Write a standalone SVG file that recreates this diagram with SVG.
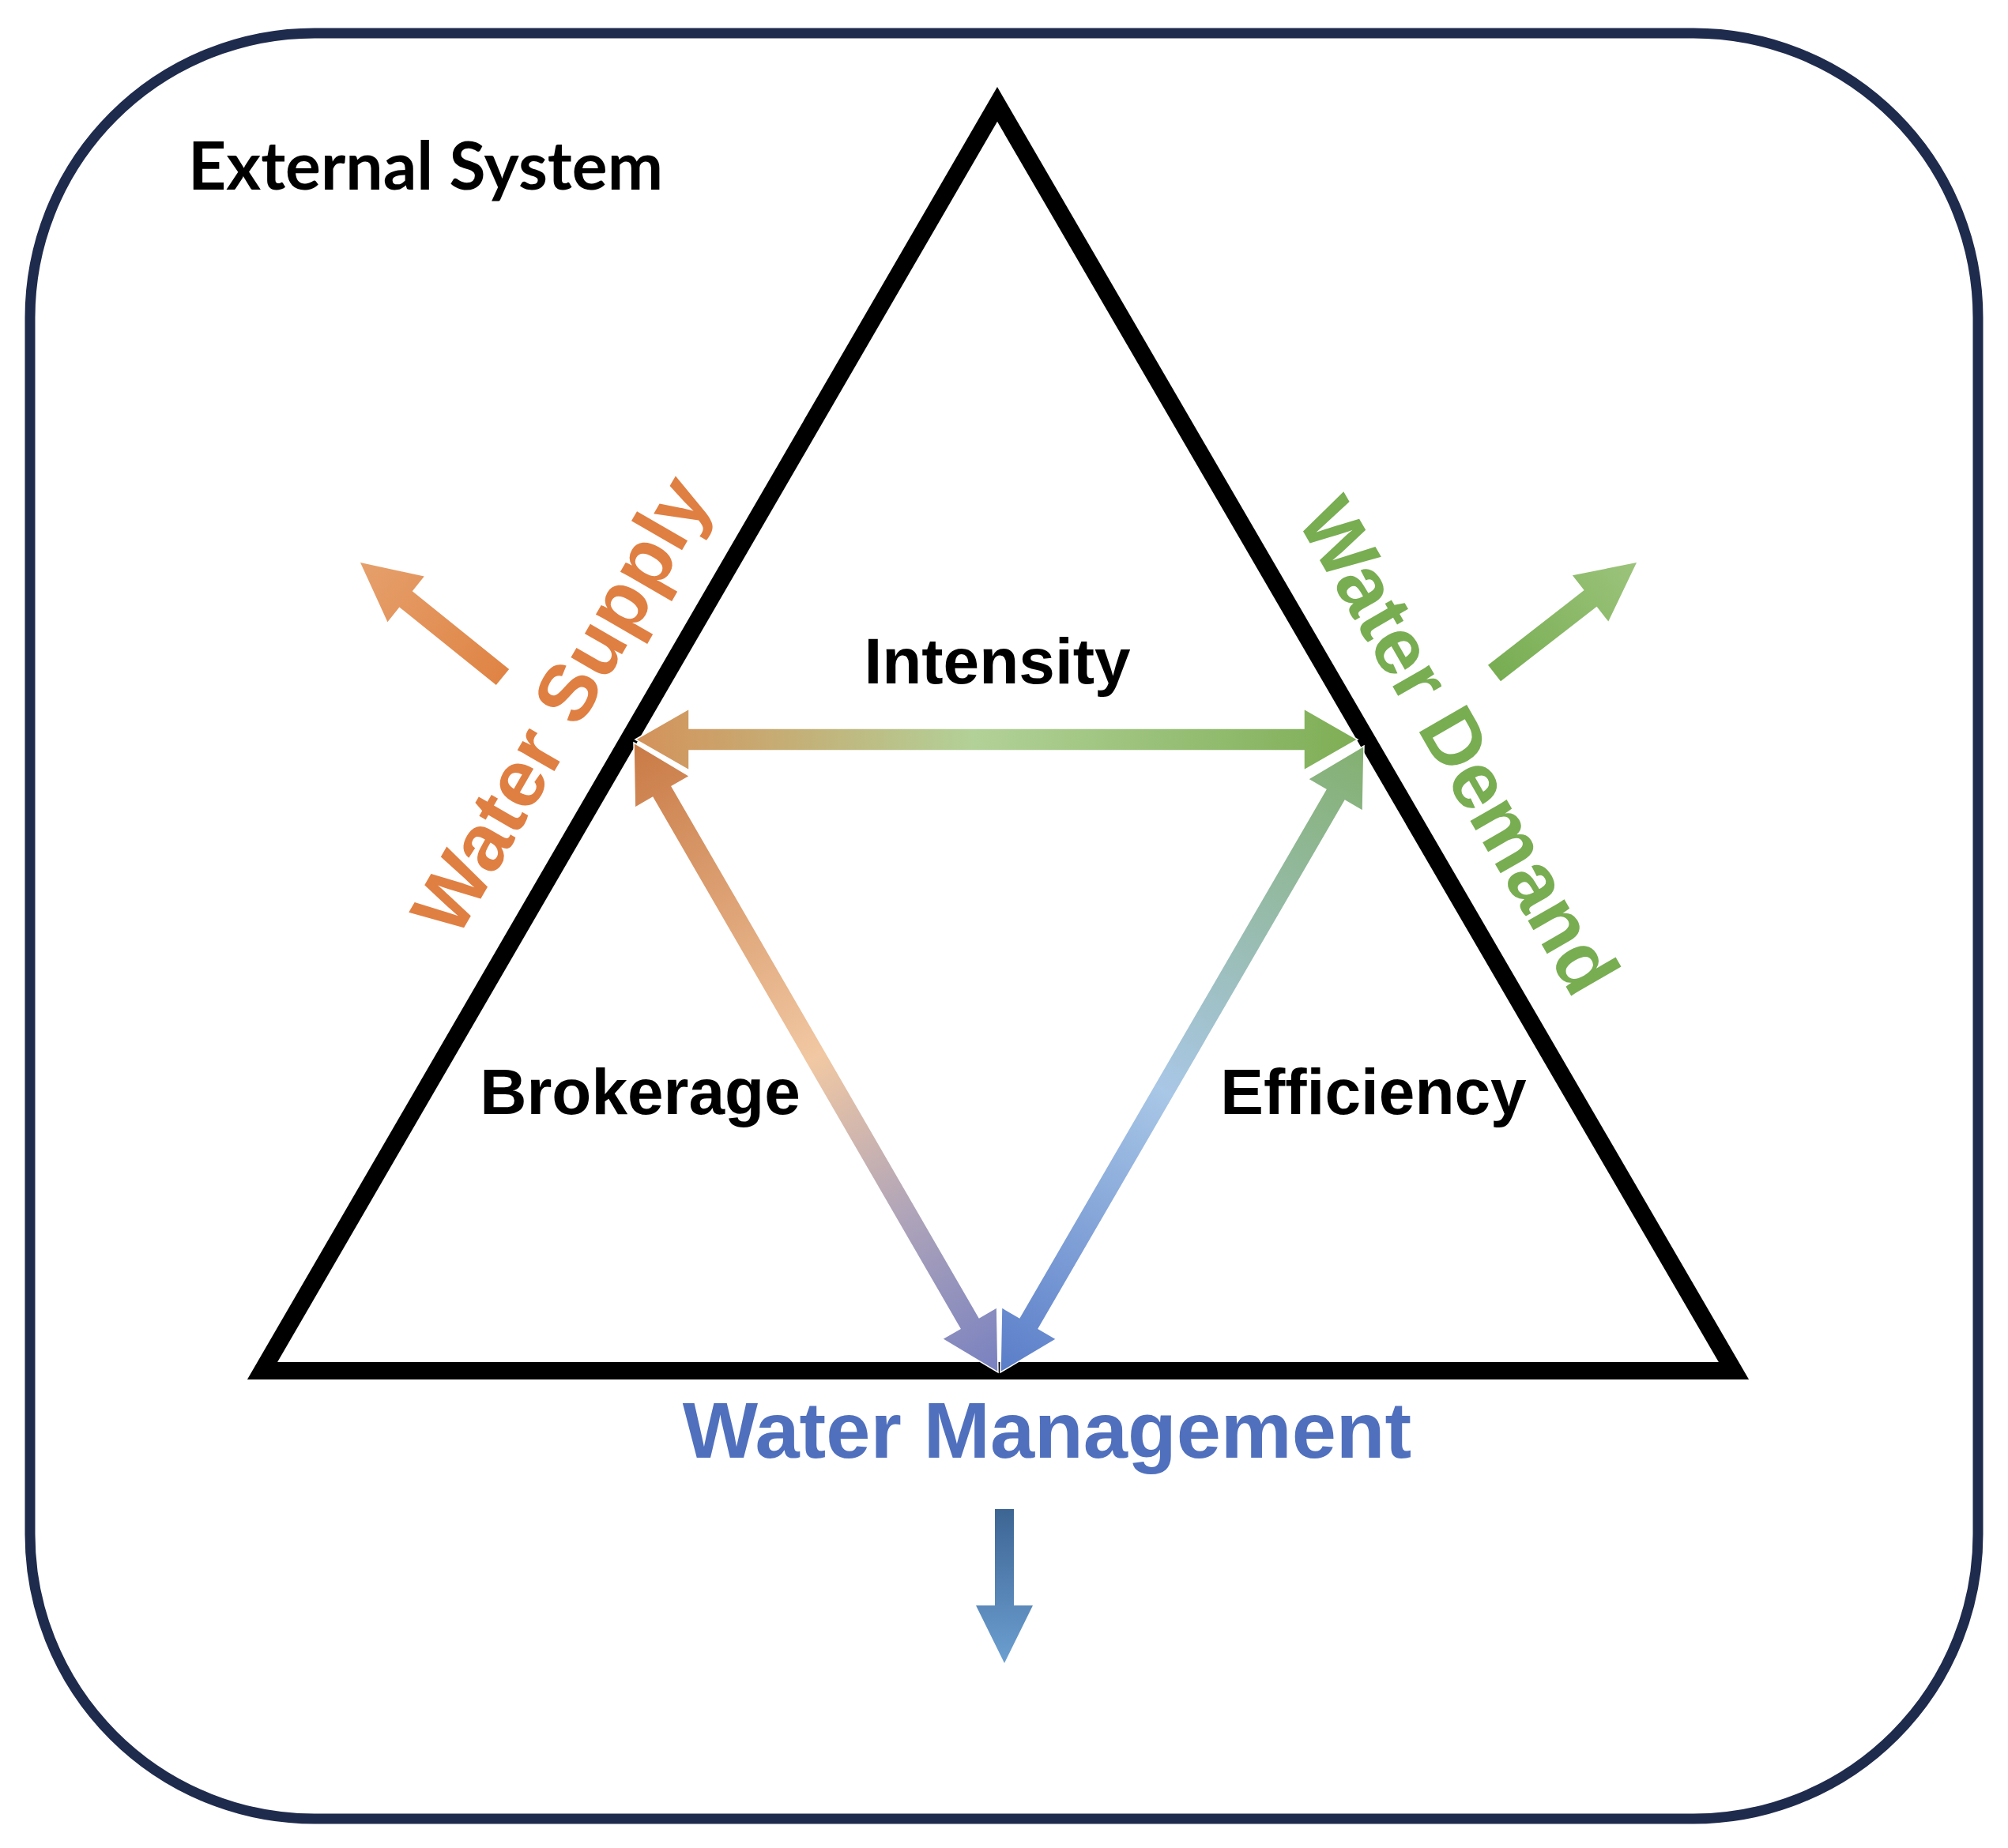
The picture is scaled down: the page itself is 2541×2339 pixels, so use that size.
<svg xmlns="http://www.w3.org/2000/svg" width="2541" height="2339" viewBox="0 0 2541 2339">
<style>
.lbl{font-family:"Liberation Sans",Arial,sans-serif;font-weight:bold;}
.blk{fill:#000;font-size:82px;text-anchor:middle;}
.arr{stroke:#fff;stroke-width:1.5;stroke-linejoin:miter;}
</style>
<defs>
<linearGradient id="gH" gradientUnits="userSpaceOnUse" x1="804" y1="936" x2="1718" y2="936">
<stop offset="0" stop-color="#d4925a"/><stop offset="0.47" stop-color="#b2d198"/><stop offset="1" stop-color="#7eae55"/>
</linearGradient>
<linearGradient id="gL" gradientUnits="userSpaceOnUse" x1="802" y1="940" x2="1263" y2="1737">
<stop offset="0" stop-color="#c97a45"/><stop offset="0.5" stop-color="#f1c8a3"/><stop offset="0.75" stop-color="#afa4b9"/><stop offset="1" stop-color="#7881c0"/>
</linearGradient>
<linearGradient id="gR" gradientUnits="userSpaceOnUse" x1="1726" y1="944" x2="1266" y2="1737">
<stop offset="0" stop-color="#84b070"/><stop offset="0.55" stop-color="#a9c7e6"/><stop offset="1" stop-color="#5a7dc9"/>
</linearGradient>
<linearGradient id="gO" gradientUnits="userSpaceOnUse" x1="636" y1="857" x2="456" y2="712">
<stop offset="0" stop-color="#df8445"/><stop offset="1" stop-color="#e6a06c"/>
</linearGradient>
<linearGradient id="gG" gradientUnits="userSpaceOnUse" x1="1891" y1="852" x2="2071" y2="712">
<stop offset="0" stop-color="#78ad52"/><stop offset="1" stop-color="#9cc47c"/>
</linearGradient>
<linearGradient id="gB" gradientUnits="userSpaceOnUse" x1="1271" y1="1910" x2="1271" y2="2105">
<stop offset="0" stop-color="#3d6594"/><stop offset="1" stop-color="#6c9fd1"/>
</linearGradient>
</defs>

<g id="external-system">
<rect x="38" y="42" width="2465" height="2260" rx="360" ry="360" fill="#fff" stroke="#1f2b4d" stroke-width="13"/>
<text x="238" y="240" font-size="84" font-weight="bold" textLength="601" lengthAdjust="spacingAndGlyphs" fill="#000" font-family="Lato,'Open Sans',sans-serif">External System</text>
</g>

<g id="triangle">
<polygon points="1262,132 2194,1735 332,1735" fill="none" stroke="#000" stroke-width="22" stroke-linejoin="miter" stroke-miterlimit="10"/>
</g>

<g id="intensity"><text class="lbl blk" x="1262" y="865" font-size="81">Intensity</text></g>
<g id="brokerage"><text class="lbl blk" x="810" y="1410">Brokerage</text></g>
<g id="efficiency"><text class="lbl blk" x="1738" y="1410">Efficiency</text></g>

<g id="water-supply">
<text class="lbl" transform="translate(578,1190) rotate(-60)" font-size="102" fill="#e07f42">Water Supply</text>
</g>
<g id="water-demand">
<text class="lbl" transform="translate(1640,657) rotate(60)" font-size="101" fill="#78ad52">Water Demand</text>
</g>
<g id="water-management">
<text class="lbl" x="1325" y="1845" font-size="101" text-anchor="middle" fill="#5070be">Water Management</text>
</g>

<g id="connectors">
<polygon class="arr" fill="url(#gH)" points="804,936 872,897 872,922 1650,922 1650,897 1718,936 1650,975 1650,950 872,950 872,975"/>
<polygon class="arr" fill="url(#gL)" points="802,940 872.6,982.3 850.1,995.3 1239.1,1667.7 1261.6,1654.7 1263,1737 1192.4,1694.7 1214.9,1681.7 825.9,1009.3 803.4,1022.3"/>
<polygon class="arr" fill="url(#gR)" points="1726,944 1724.5,1026.4 1702.0,1013.3 1314.2,1681.7 1336.7,1694.8 1266,1737 1267.5,1654.6 1290.0,1667.7 1677.8,999.3 1655.3,986.2"/>
<polygon fill="url(#gO)" points="456,712 536.8,729.6 521.8,748.3 644.2,846.9 627.8,867.1 505.4,768.5 490.4,787.2"/>
<polygon fill="url(#gG)" points="2071,712 2035.3,786.6 2020.6,767.7 1899.0,862.3 1883.0,841.7 2004.6,747.1 1989.9,728.2"/>
<polygon fill="url(#gB)" points="1259,1910 1283,1910 1283,2032 1307,2032 1271,2105 1235,2032 1259,2032"/>
</g>
</svg>
